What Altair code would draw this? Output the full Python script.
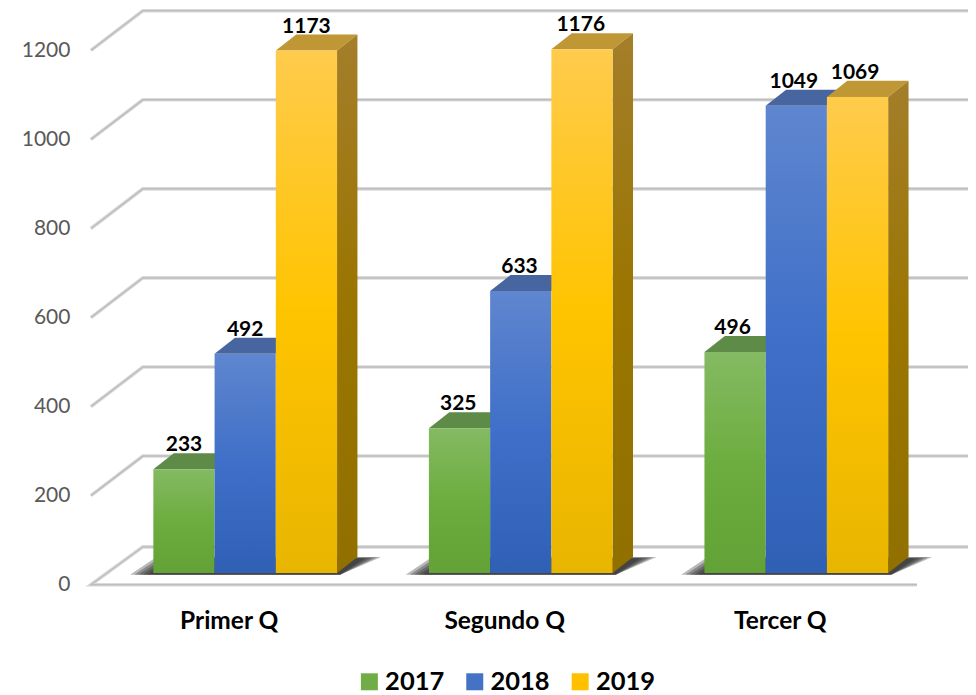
import altair as alt
import pandas as pd

categories = ["Primer Q", "Segundo Q", "Tercer Q"]
series = ["2017", "2018", "2019"]
values_2017 = [233, 325, 496]
values_2018 = [492, 633, 1049]
values_2019 = [1173, 1176, 1069]
tick_values = [0, 200, 400, 600, 800, 1000, 1200]
legend_colors = ["#70AD47", "#4472C4", "#FFC000"]

FONT = "Lato"
STEP = 4.5        # distance between groups, in bar widths
BASE = 26.5       # how far the bars stand behind the front edge of the floor, in value units
DX, DY = 1 / 3, 36    # depth of a bar
GX, GY = 0.848, 85    # depth of the floor
WALL_GY = 89          # depth of the wall lines
XMIN, XMAX = -1.0196, 13.304
YMAX = 1294.3
FRONT_RIGHT = 12.47

grad = lambda stops: alt.LinearGradient(
    gradient="linear", x1=0, x2=0, y1=0, y2=1,
    stops=[alt.GradientStop(offset=o, color=c) for o, c in stops])

front = {
    "2017": grad([(0, "#84BA63"), (0.5, "#6DAD3F"), (1, "#62A236")]),
    "2018": grad([(0, "#5F86CF"), (0.5, "#3F6FC8"), (1, "#2F60B6")]),
    "2019": grad([(0, "#FFCB4C"), (0.5, "#FFC400"), (1, "#E8B500")]),
}
top = {"2017": "#5F8B48", "2018": "#47659F", "2019": "#BF9735"}
side = grad([(0, "#A47E2A"), (0.5, "#9A7500"), (1, "#917000")])

x_scale = alt.Scale(domain=[XMIN, XMAX], range="width", nice=False, zero=False)
y_scale = alt.Scale(domain=[0, YMAX], nice=False, zero=False)
NX = alt.X("x:Q", scale=x_scale, axis=alt.Axis(
    values=[g * STEP + 1.23 for g in range(3)],
    labelExpr="%s[floor(datum.value / %s)]" % (categories, STEP),
    title=None, domain=False, ticks=False, grid=False, labelPadding=25,
    labelFont=FONT, labelFontSize=24.5, labelFontWeight="bold", labelColor="#000000"))
NY = alt.Y("y:Q", scale=y_scale, axis=alt.Axis(
    values=tick_values, format="d", title=None, domain=False, ticks=False, grid=False, labelPadding=21,
    labelFont=FONT, labelFontSize=21, labelColor="#595959"))

# ---- walls and floor ----
grid_rows = []
for v in tick_values[1:]:
    grid_rows += [dict(k=v, o=0, x=XMIN, y=v), dict(k=v, o=1, x=XMIN + GX, y=v + WALL_GY), dict(k=v, o=2, x=XMAX, y=v + WALL_GY)]
grid_rows += [dict(k=0, o=0, x=FRONT_RIGHT, y=0), dict(k=0, o=1, x=XMIN, y=0),
              dict(k=0, o=2, x=XMIN + GX, y=GY), dict(k=0, o=3, x=XMAX, y=GY)]
grid_df = pd.DataFrame(grid_rows)
grid_outer = alt.Chart(grid_df).mark_line(color="#DADADA", strokeWidth=3.6, strokeJoin="miter").encode(
    x=NX, y=NY, detail="k:N", order="o:Q")
grid_inner = alt.Chart(grid_df).mark_line(color="#BDBDBD", strokeWidth=1.5, strokeJoin="miter").encode(
    x=NX, y=NY, detail="k:N", order="o:Q")

# ---- floor shadow: nested soft polygons ----
layers = [grid_outer, grid_inner]
for e in [0.0, 0.07, 0.14, 0.21, 0.28]:
    shadow_rows = []
    for g in range(3):
        s = g * STEP
        shadow_rows += [dict(g=g, y=BASE - 4, x=s - 0.38 + e, x2=s + 3.05),
                        dict(g=g, y=BASE + DY - e * 12, x=s + 0.05 + e, x2=s + 3.72 - e)]
    layers.append(alt.Chart(pd.DataFrame(shadow_rows)).mark_area(
        orient="horizontal", color="#262626", opacity=0.32).encode(x=NX, x2="x2:Q", y=NY, detail="g:N"))

# ---- bars ----
values = {"2017": values_2017, "2018": values_2018, "2019": values_2019}
label_rows = []
for i, name in enumerate(series):
    f_rows, t_rows, s_rows = [], [], []
    for g, v in enumerate(values[name]):
        x0 = g * STEP + i
        x1 = x0 + 1
        t = BASE + v
        f_rows.append(dict(x=x0, x2=x1, y=BASE, y2=t))
        t_rows += [dict(g=g, x=x0, y=t, y2=t), dict(g=g, x=x0 + DX, y=t, y2=t + DY),
                   dict(g=g, x=x1, y=t, y2=t + DY), dict(g=g, x=x1 + DX, y=t + DY, y2=t + DY)]
        s_rows += [dict(g=g, x=x1, y=BASE, y2=t), dict(g=g, x=x1 + DX, y=BASE + DY, y2=t + DY)]
        label_rows.append(dict(x=x0 + 0.5 - 0.02 * g, y=t + 54, v=v, series=name))
    layers.append(alt.Chart(pd.DataFrame(t_rows)).mark_area(color=top[name]).encode(x=NX, y=NY, y2="y2:Q", detail="g:N"))
    if name == "2019":
        layers.append(alt.Chart(pd.DataFrame(s_rows)).mark_area(color=side).encode(x=NX, y=NY, y2="y2:Q", detail="g:N"))
    layers.append(alt.Chart(pd.DataFrame(f_rows)).mark_rect(color=front[name]).encode(x=NX, x2="x2:Q", y=NY, y2="y2:Q"))

labels_df = pd.DataFrame(label_rows)
layers.append(alt.Chart(labels_df).mark_text(font=FONT, fontSize=21, fontWeight="bold", color="#000000", baseline="middle").encode(
    x=NX, y=NY, text="v:Q"))

# ---- legend ----
layers.append(alt.Chart(labels_df).mark_square(opacity=0, size=10).encode(
    x=NX, y=NY,
    color=alt.Color("series:N", scale=alt.Scale(domain=series, range=legend_colors), legend=alt.Legend(
        orient="none", legendX=266, legendY=661, direction="horizontal", columns=3, title=None,
        symbolType="square", symbolSize=289, symbolOpacity=1, symbolStrokeWidth=0,
        labelFont=FONT, labelFontSize=25.5, labelFontWeight="bold", labelColor="#000000",
        labelOffset=3, labelLimit=80, columnPadding=17.5))))

chart = alt.layer(*layers).properties(
    width=878, height=577,
    padding={"left": 83, "top": 0, "right": 0, "bottom": 110},
    autosize="none",
    background="#FFFFFF",
).configure_view(stroke=None)

chart.save("out.html", embed_options={"renderer": "svg", "actions": False})
